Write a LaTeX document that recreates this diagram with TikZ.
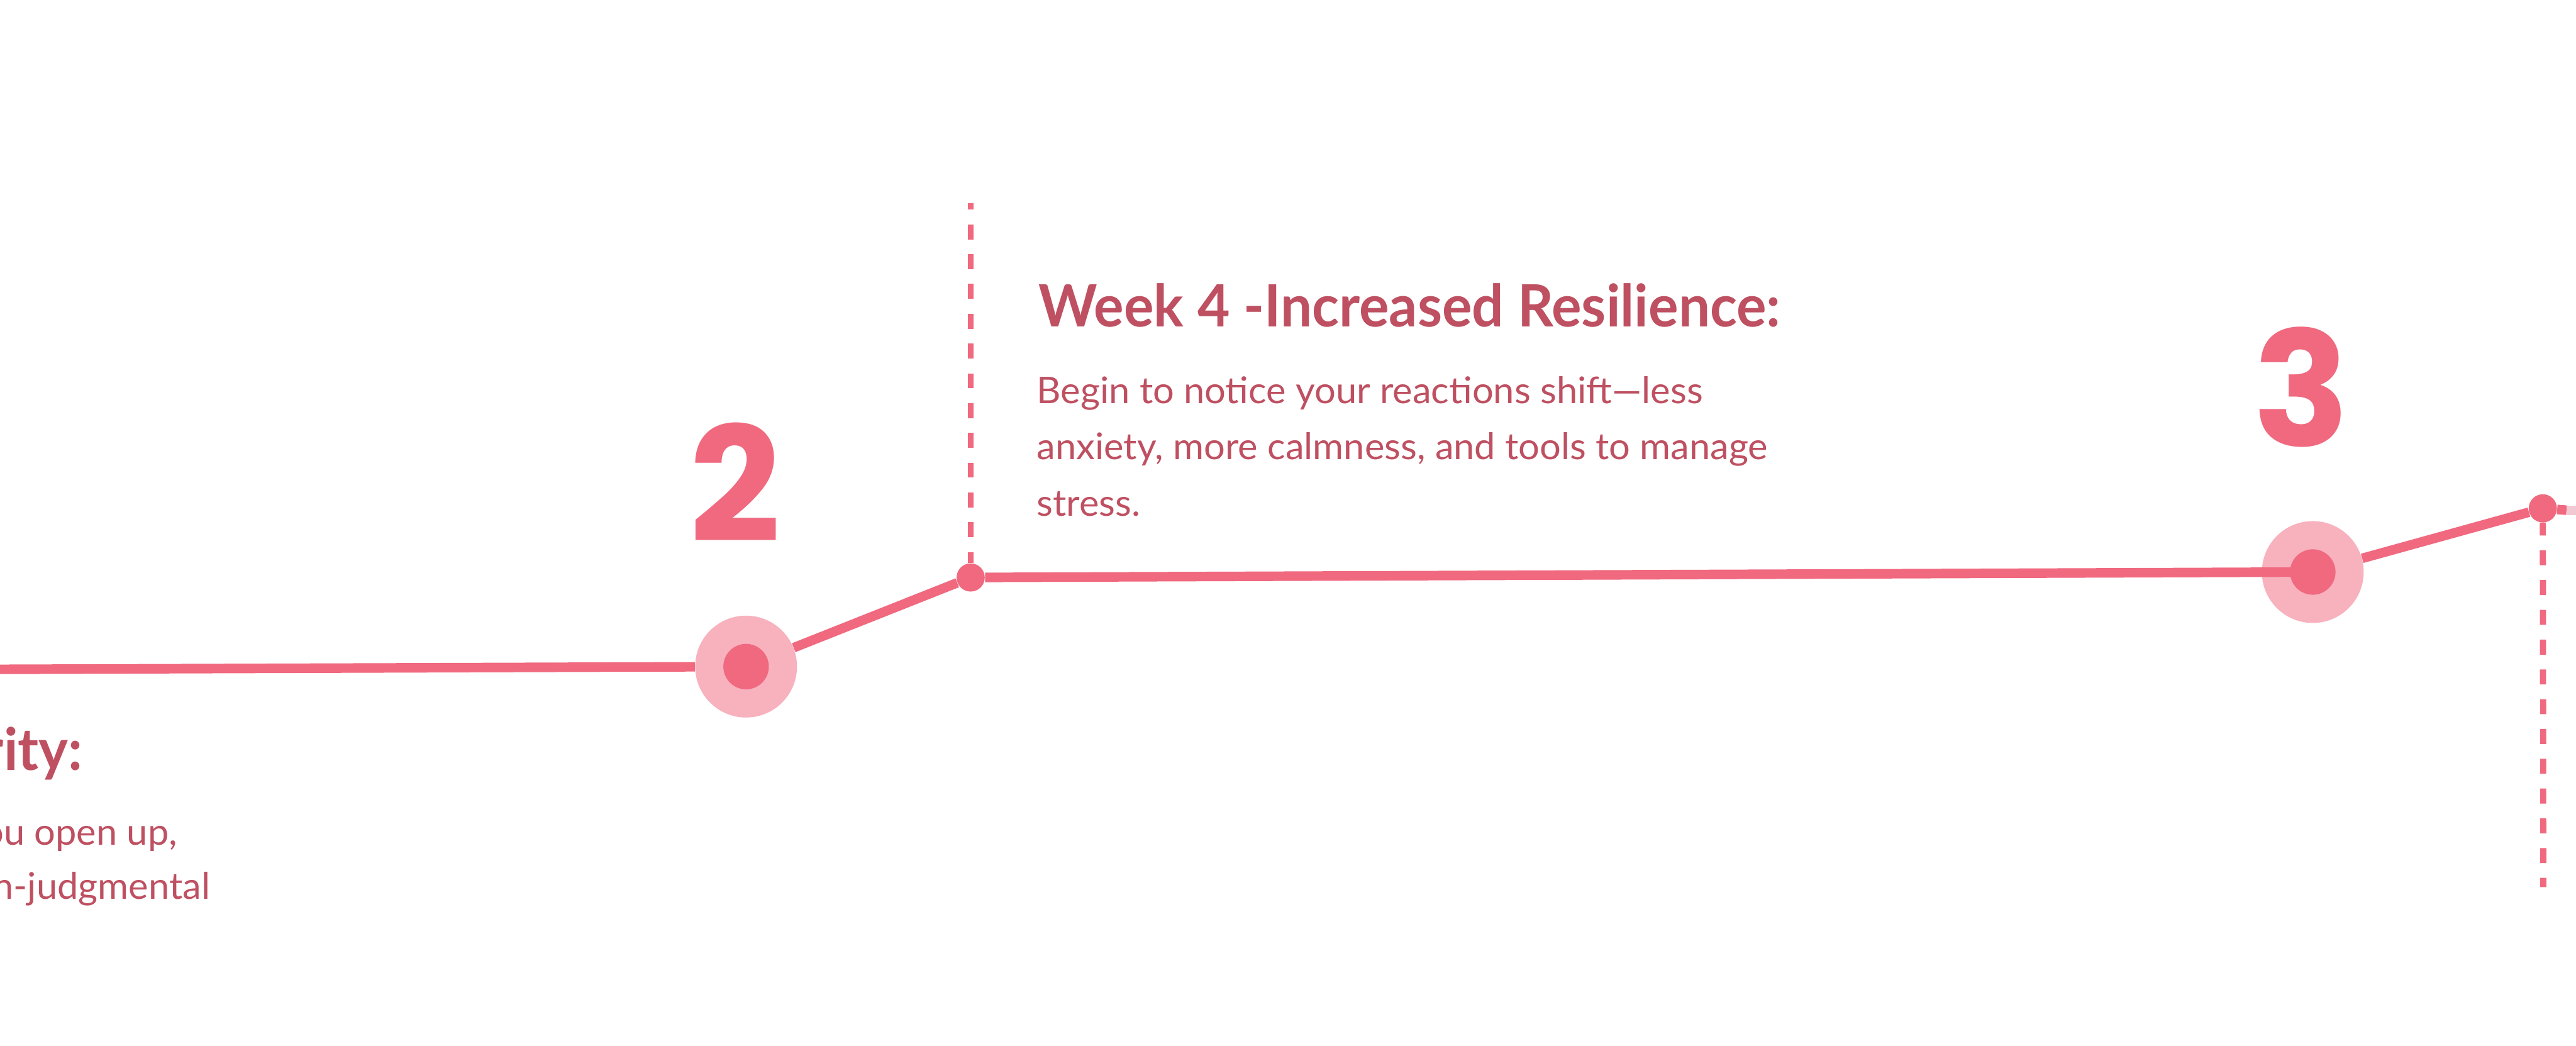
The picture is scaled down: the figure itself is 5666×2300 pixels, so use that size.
\documentclass[tikz,border=0pt]{standalone}
\usepackage{fontspec}
\setmainfont{Lato}
\newfontfamily\headfont{Lato}[FakeStretch=0.96]
\newfontfamily\bodyfont{Lato}[FakeStretch=1.02]
\newfontfamily\numfont{Poppins}
\usepackage{tikz}
\usetikzlibrary{positioning}
\definecolor{trackpink}{RGB}{240,105,127}
\definecolor{halopink}{RGB}{247,178,190}
\definecolor{fadepink}{RGB}{242,200,210}
\definecolor{textrose}{RGB}{190,80,97}
\tikzset{
  halo/.style={circle,fill=halopink,minimum size=22.4mm,inner sep=0pt},
  core/.style={circle,fill=trackpink,minimum size=10mm,inner sep=0pt},
  joint/.style={circle,fill=trackpink,minimum size=6.2mm,inner sep=0pt},
  track/.style={draw=trackpink,line width=2.1mm},
  guide/.style={draw=trackpink,line width=1.35mm,
    dash pattern=on 3.3mm off 3.25mm},
  stepnum/.style={anchor=base,inner sep=0pt,text=trackpink,
    font=\numfont\bfseries\fontsize{100}{100}\selectfont},
  headline/.style={inner sep=0pt,text=textrose,
    font=\headfont\bfseries\fontsize{36.5}{40}\selectfont},
  blurb/.style={inner sep=0pt,text=textrose,align=left,
    font=\bodyfont\fontsize{23}{35.3}\selectfont}
}

\begin{document}
\begin{tikzpicture}[x=0.1mm,y=-0.1mm]
  \useasboundingbox (0,0) rectangle (5666,2300);
  \coordinate (start) at (0,1472);
  \coordinate (fadeat) at (5645,1122);
  \coordinate (finish) at (5666,1122);
  \coordinate (j2top) at (2135,447);
  \coordinate (j3foot) at (5594,1951);
  \node[halo] (c2) at (1641,1466) {};
  \node[halo] (c3) at (5087,1258) {};
  \node[joint] (j2) at (2135,1270) {};
  \node[joint] (j3) at (5593,1118) {};
  \draw[track] (start) -- (c2);
  \draw[track] (c2) -- (j2);
  \draw[track] (j2) -- (c3.center);
  \draw[track] (c3) -- (j3);
  \draw[track] (j3) -- (fadeat);
  \draw[track,draw=fadepink] (fadeat) -- (finish);
  \draw[guide,dash phase=1.9mm] (j2top) -- (j2);
  \draw[guide,dash phase=0.5mm] (j3) -- (j3foot);
  \node[core] (c2dot) at (c2) {};
  \node[core] (c3dot) at (c3) {};
  \node[stepnum] (num2) at (1617,1191) {2};
  \node[stepnum] (num3) at (5062,981) {3};
  \node[headline,anchor=base east] (head3) at (183,1694) {rity:};
  \node[blurb,anchor=base east] (body3a) at (391,1858) {ou open up,};
  \node[blurb,anchor=base east] (body3b) at (463,1977) {n-judgmental};
  \node[headline,anchor=base west] (head4) at (2284,719)
    {Week 4 -Increased Resilience:};
  \node[blurb,anchor=base west] (body4) at (2280,1135)
    {Begin to notice your reactions shift—less\\
     anxiety, more calmness, and tools to manage\\
     stress.};
\end{tikzpicture}
\end{document}
